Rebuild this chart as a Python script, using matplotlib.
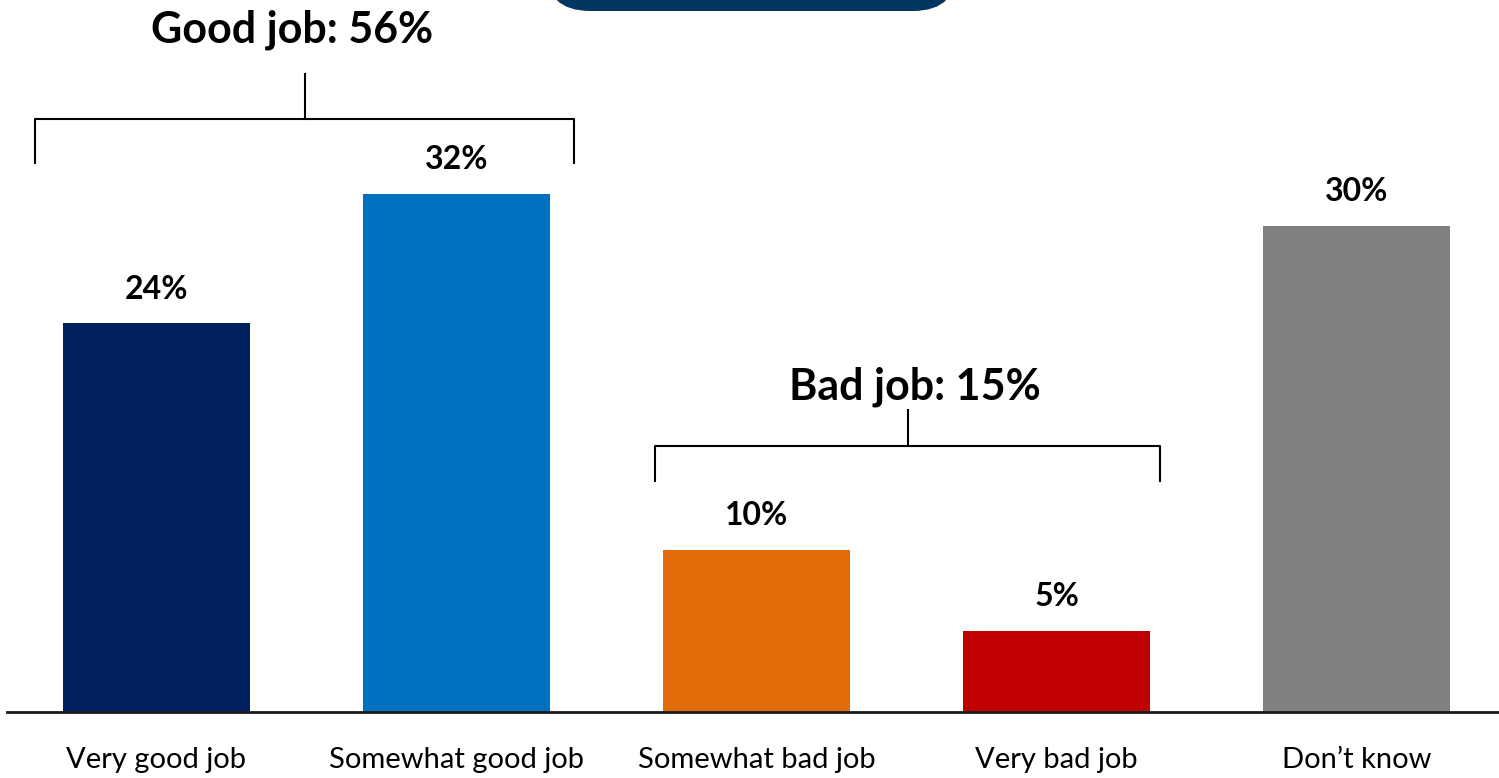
import matplotlib
matplotlib.use("Agg")
import matplotlib.pyplot as plt
from matplotlib.patches import FancyBboxPatch

plt.rcParams['font.family'] = ['Lato', 'DejaVu Sans']

categories = ["Very good job", "Somewhat good job", "Somewhat bad job", "Very bad job", "Don\u2019t know"]
values = [24, 32, 10, 5, 30]
colors = ["#002060", "#0070C0", "#E36C0A", "#C00000", "#808080"]
groups = [("Good job: 56%", 0, 1), ("Bad job: 15%", 2, 3)]

W, H = 1499, 778
fig = plt.figure(figsize=(W / 100, H / 100), dpi=100)
ax = fig.add_axes([6.5 / W, 66 / H, 1500 / W, 1 - 66 / H])
ax.set_xlim(-0.5, 4.5)
ax.set_ylim(0, 712 / 16.2)

x = list(range(len(categories)))
ax.bar(x, values, width=0.623, color=colors, zorder=2)
for xi, v in zip(x, values):
    ax.text(xi, v + 2.1, f"{v}%", ha="center", va="center", fontsize=23, fontweight="bold", color="black")

for s in ["top", "right", "left"]:
    ax.spines[s].set_visible(False)
ax.spines["bottom"].set_linewidth(2)
ax.spines["bottom"].set_color("#1a1a1a")
ax.set_yticks([])
ax.set_xticks(x)
ax.set_xticklabels(categories, fontsize=21)
ax.tick_params(axis="x", length=0, pad=25)

# brackets
bracket_specs = [
    # (left, right, bar_y, drop_y, stem_top, text_x, text_y)
    (-0.405, 1.392, 36.6, 33.9, 39.4, 0.452, 42.1),
    (1.662, 3.345, 16.4, 14.26, 18.64, 2.528, 20.1),
]
for (label, a, b), (l, r, by, dy, st, tx, ty) in zip(groups, bracket_specs):
    ax.plot([l, l, r, r], [dy, by, by, dy], color="black", lw=1.5, clip_on=False)
    mid = (l + r) / 2
    ax.plot([mid, mid], [by, st], color="black", lw=1.5, clip_on=False)
    ax.text(tx, ty, label, ha="center", va="center", fontsize=31, fontweight="bold")

# top dark box
box = FancyBboxPatch((545 / W, (H - 11) / H), 413 / W, 60 / H,
                     boxstyle="round,pad=0,rounding_size=0.03",
                     transform=fig.transFigure, facecolor="#00365F", edgecolor="none",
                     mutation_aspect=W / H)
fig.patches.append(box)

fig.savefig("out.png", dpi=100)
